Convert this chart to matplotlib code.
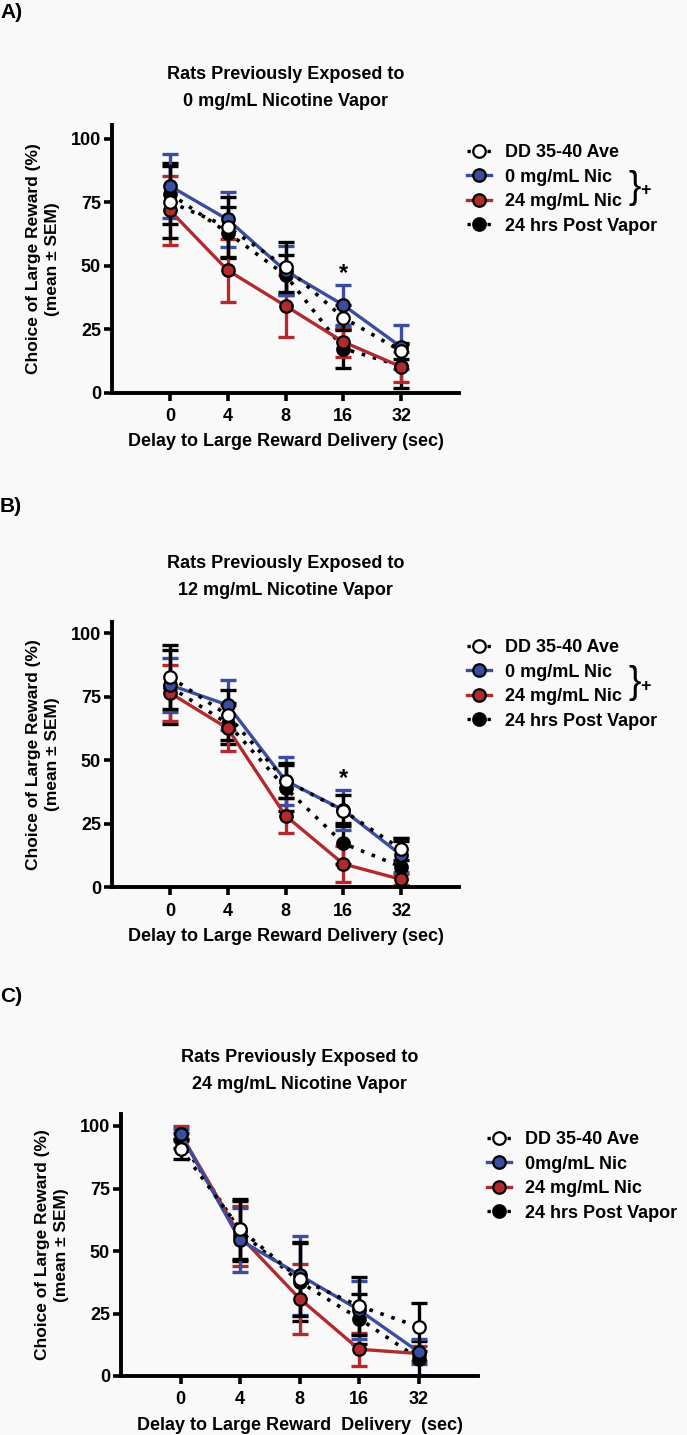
import matplotlib
matplotlib.use("Agg")
import matplotlib.pyplot as plt
from matplotlib.lines import Line2D

plt.rcParams['font.family'] = ['Liberation Sans', 'DejaVu Sans']
plt.rcParams['font.weight'] = 'bold'

categories = ["0", "4", "8", "16", "32"]

# Panel A: previously exposed to 0 mg/mL
A_dd = [75.1, 65.3, 49.5, 29.5, 16.4]
A_dd_err = [14.0, 11.7, 9.8, 5.0, 3.0]
A_nic0 = [81.4, 68.2, 48.0, 34.5, 18.0]
A_nic0_err = [12.7, 11.0, 9.6, 8.0, 8.6]
A_nic24 = [71.8, 48.2, 34.2, 20.0, 10.2]
A_nic24_err = [13.5, 12.5, 12.2, 6.0, 5.9]
A_post = [78.4, 63.0, 46.3, 17.4, 10.5]
A_post_err = [12.0, 10.0, 8.0, 7.5, 8.5]

# Panel B: previously exposed to 12 mg/mL
B_dd = [82.9, 67.8, 42.0, 30.2, 15.0]
B_dd_err = [12.5, 9.9, 6.8, 6.2, 4.3]
B_nic0 = [79.7, 71.8, 42.0, 30.4, 12.7]
B_nic0_err = [10.5, 10.0, 9.4, 8.0, 6.6]
B_nic24 = [76.6, 62.6, 28.2, 9.2, 3.1]
B_nic24_err = [11.0, 9.0, 7.0, 7.0, 2.0]
B_post = [79.0, 64.5, 39.2, 17.3, 8.1]
B_post_err = [14.5, 8.0, 9.0, 8.0, 10.0]

# Panel C: previously exposed to 24 mg/mL
C_dd = [91.0, 58.8, 38.8, 28.0, 19.7]
C_dd_err = [4.0, 11.9, 14.9, 11.7, 9.6]
C_nic0 = [96.8, 54.4, 40.4, 26.4, 9.7]
C_nic0_err = [2.0, 12.7, 15.8, 11.7, 5.0]
C_nic24 = [97.0, 56.0, 31.0, 10.7, 9.0]
C_nic24_err = [3.0, 12.0, 14.0, 6.5, 3.0]
C_post = [94.4, 58.0, 37.7, 23.0, 7.0]
C_post_err = [3.0, 12.0, 15.5, 10.0, 7.0]

BLUE = '#3a4d9e'
RED = '#b02a2e'
BG = '#f9f9f9'

W, H = 687, 1435
fig = plt.figure(figsize=(W / 100, H / 100), dpi=100, facecolor=BG)


def fx(px):
    return px / W


def fy(py):
    return 1 - py / H


def panel(rect, ylim_top, data, title, label, label_y, title_y, legend_rows,
          legend_x, nic0_label, star_y, brace, xlabel):
    left, right, top, bottom = rect
    ax = fig.add_axes([fx(left), fy(bottom), fx(right - left), (bottom - top) / H])
    ax.set_facecolor(BG)
    x = list(range(len(categories)))
    dd, dde, n0, n0e, n24, n24e, po, poe = data
    ekw = dict(capsize=5.5, capthick=2.4, elinewidth=2.4)
    ax.errorbar(x, po, yerr=poe, fmt='none', ecolor='black', zorder=2, **ekw)
    ax.errorbar(x, n24, yerr=n24e, fmt='none', ecolor=RED, zorder=2, **ekw)
    ax.errorbar(x, n0, yerr=n0e, fmt='none', ecolor=BLUE, zorder=2, **ekw)
    ax.errorbar(x, dd, yerr=dde, fmt='none', ecolor='black', zorder=2, **ekw)
    mk = dict(marker='o', markersize=9, markeredgecolor='black', markeredgewidth=1.6)
    ax.plot(x, po, color='black', linestyle=(0, (1, 2.2)), linewidth=2.6,
            markerfacecolor='black', zorder=3, **mk)
    ax.plot(x, n24, color=RED, linewidth=2.4, markerfacecolor=RED, zorder=4, **mk)
    ax.plot(x, n0, color=BLUE, linewidth=2.4, markerfacecolor=BLUE, zorder=5, **mk)
    ax.plot(x, dd, color='black', linestyle=(0, (1, 2.2)), linewidth=2.6,
            markerfacecolor='white', zorder=6, **mk)
    ax.set_xlim(-1, 5)
    ax.set_ylim(0, ylim_top)
    ax.set_xticks(x)
    ax.set_xticklabels(categories)
    ax.set_yticks([0, 25, 50, 75, 100])
    for s in ['top', 'right']:
        ax.spines[s].set_visible(False)
    for s in ['left', 'bottom']:
        ax.spines[s].set_linewidth(2.8)
    ax.tick_params(axis='both', width=2.6, length=6, labelsize=13, pad=2)
    ax.tick_params(axis='x', pad=5)
    for t in ax.get_xticklabels() + ax.get_yticklabels():
        t.set_fontweight('bold')
    ax.set_ylabel('Choice of Large Reward (%)\n(mean ± SEM)', fontsize=12.5,
                  fontweight='bold', labelpad=8, linespacing=1.3)
    ax.set_xlabel(xlabel, fontsize=13, fontweight='bold', labelpad=6)
    if star_y is not None:
        ax.text(3, star_y, '*', ha='center', va='center', fontsize=17, fontweight='bold')
    cx = (left + right) / 2
    fig.text(fx(cx), fy(title_y), title, ha='center', va='center', fontsize=13,
             fontweight='bold', linespacing=1.7)
    fig.text(fx(0), fy(label_y), label, ha='left', va='center', fontsize=15,
             fontweight='bold')
    # legend
    handles = [
        Line2D([], [], color='black', linestyle=(0, (1, 2.0)), linewidth=2.4,
               marker='o', markersize=9, markerfacecolor='white',
               markeredgecolor='black', markeredgewidth=1.6),
        Line2D([], [], color=BLUE, linewidth=2.4, marker='o', markersize=9,
               markerfacecolor=BLUE, markeredgecolor='black', markeredgewidth=1.6),
        Line2D([], [], color=RED, linewidth=2.4, marker='o', markersize=9,
               markerfacecolor=RED, markeredgecolor='black', markeredgewidth=1.6),
        Line2D([], [], color='black', linestyle=(0, (1, 2.0)), linewidth=2.4,
               marker='o', markersize=9, markerfacecolor='black',
               markeredgecolor='black', markeredgewidth=1.6),
    ]
    labels = ['DD 35-40 Ave', nic0_label, '24 mg/mL Nic', '24 hrs Post Vapor']
    fig.legend(handles, labels, loc='upper left',
               bbox_to_anchor=(fx(legend_x), fy(legend_rows - 6)),
               frameon=False, handlelength=1.35, handletextpad=0.75,
               labelspacing=0.42, borderaxespad=0, borderpad=0,
               prop={'size': 13, 'weight': 'bold'})
    if brace is not None:
        bx, by = brace
        fig.text(fx(bx), fy(by), '}', ha='left', va='center', fontsize=27,
                 fontweight='normal')
        fig.text(fx(bx + 12), fy(by + 3), '+', ha='left', va='center', fontsize=13,
                 fontweight='bold')
    return ax


xl = 'Delay to Large Reward Delivery (sec)'
panel((112, 459, 125, 392.7), 105.4,
      (A_dd, A_dd_err, A_nic0, A_nic0_err, A_nic24, A_nic24_err, A_post, A_post_err),
      'Rats Previously Exposed to\n0 mg/mL Nicotine Vapor', 'A)', 12, 88,
      150, 467, '0 mg/mL Nic', 46.9, (628, 188), xl)

panel((112, 459, 621.7, 887.3), 104.6,
      (B_dd, B_dd_err, B_nic0, B_nic0_err, B_nic24, B_nic24_err, B_post, B_post_err),
      'Rats Previously Exposed to\n12 mg/mL Nicotine Vapor', 'B)', 506, 577,
      645, 467, '0 mg/mL Nic', 42.9, (628, 683), xl)

panel((121, 478, 1114, 1376), 104.8,
      (C_dd, C_dd_err, C_nic0, C_nic0_err, C_nic24, C_nic24_err, C_post, C_post_err),
      'Rats Previously Exposed to\n24 mg/mL Nicotine Vapor', 'C)', 997, 1071,
      1137, 487, '0mg/mL Nic', None, None,
      'Delay to Large Reward  Delivery  (sec)')

fig.savefig('out.png', dpi=100, facecolor=BG)
